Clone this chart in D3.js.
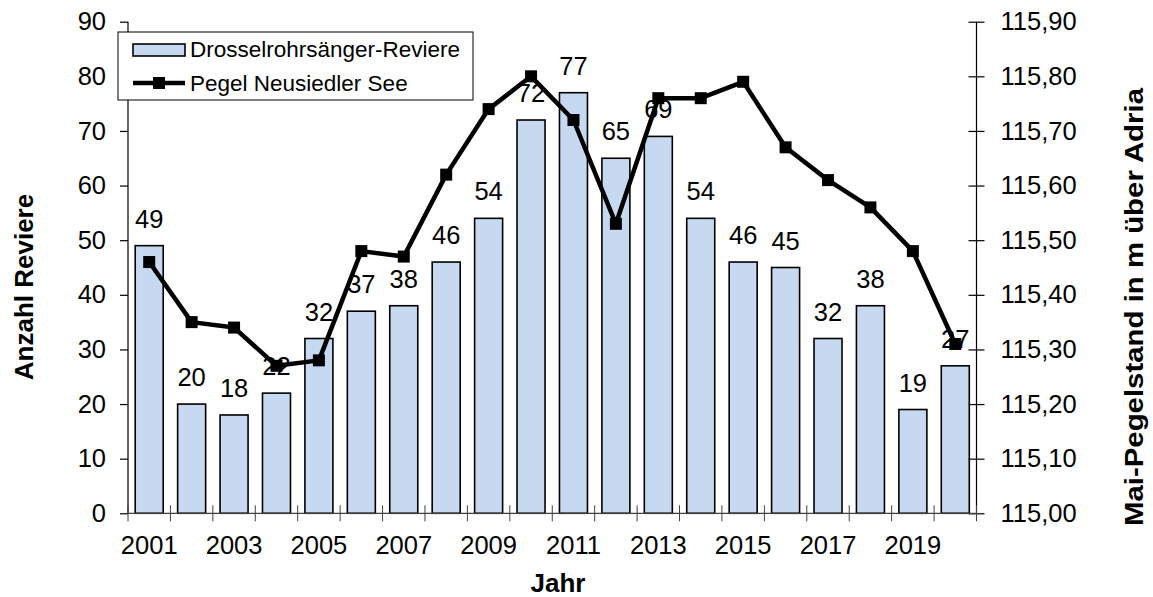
<!DOCTYPE html>
<html>
<head>
<meta charset="utf-8">
<script src="https://cdn.jsdelivr.net/npm/d3@7"></script>
<style>
  body { margin: 0; background: #fff; }
  svg { font-family: Arial, "Liberation Sans", sans-serif; }
  .tick text { font-size: 25.5px; fill: #000; }
  .label { font-size: 25.5px; fill: #000; }
  .title { font-size: 26px; font-weight: bold; fill: #000; }
  .legend-text { font-size: 22.5px; fill: #000; }
</style>
</head>
<body>
<div id="graph-container"></div>
<script>
const years = [2001, 2002, 2003, 2004, 2005, 2006, 2007, 2008, 2009, 2010,
               2011, 2012, 2013, 2014, 2015, 2016, 2017, 2018, 2019, 2020];
const reviere = [49, 20, 18, 22, 32, 37, 38, 46, 54, 72,
                 77, 65, 69, 54, 46, 45, 32, 38, 19, 27];
const pegel = [115.46, 115.35, 115.34, 115.27, 115.28, 115.48, 115.47, 115.62, 115.74, 115.80,
               115.72, 115.53, 115.76, 115.76, 115.79, 115.67, 115.61, 115.56, 115.48, 115.31];
const leftTicks = [0, 10, 20, 30, 40, 50, 60, 70, 80, 90];
const rightTicks = [115.0, 115.1, 115.2, 115.3, 115.4, 115.5, 115.6, 115.7, 115.8, 115.9];
const yearLabels = [2001, 2003, 2005, 2007, 2009, 2011, 2013, 2015, 2017, 2019];
const seriesNames = ['Drosselrohrsänger-Reviere', 'Pegel Neusiedler See'];

const width = 1153, height = 597;
const plot = { left: 128, right: 976.5, top: 21.7, bottom: 513.3 };
const barFill = '#c6d9f1';

const svg = d3.select('#graph-container')
              .append('svg')
              .attr('width', width)
              .attr('height', height);

// bars take ~66% of each category slot
const x = d3.scaleBand()
            .domain(years)
            .range([plot.left, plot.right])
            .paddingInner(0.34)
            .paddingOuter(0.17);

const yLeft = d3.scaleLinear().domain([0, 90]).range([plot.bottom, plot.top]);
const yRight = d3.scaleLinear().domain([115.0, 115.9]).range([plot.bottom, plot.top]);
const cx = d => x(d) + x.bandwidth() / 2;

// bars
svg.append('g')
   .selectAll('rect')
   .data(years)
   .enter()
   .append('rect')
   .attr('x', d => x(d))
   .attr('y', (d, i) => yLeft(reviere[i]))
   .attr('width', x.bandwidth())
   .attr('height', (d, i) => plot.bottom - yLeft(reviere[i]))
   .attr('fill', barFill)
   .attr('stroke', '#000')
   .attr('stroke-width', 1.6);

// value labels above the bars
svg.append('g')
   .selectAll('text')
   .data(years)
   .enter()
   .append('text')
   .attr('class', 'label')
   .attr('text-anchor', 'middle')
   .attr('x', d => cx(d))
   .attr('y', (d, i) => yLeft(reviere[i]) - 18)
   .text((d, i) => reviere[i]);

// water level line (secondary axis)
const line = d3.line()
               .x((d, i) => cx(years[i]))
               .y(d => yRight(d));

svg.append('path')
   .datum(pegel)
   .attr('d', line)
   .attr('fill', 'none')
   .attr('stroke', '#000')
   .attr('stroke-width', 4.5)
   .attr('stroke-linejoin', 'round');

svg.append('g')
   .selectAll('rect')
   .data(pegel)
   .enter()
   .append('rect')
   .attr('x', (d, i) => cx(years[i]) - 6)
   .attr('y', d => yRight(d) - 6)
   .attr('width', 12)
   .attr('height', 12)
   .attr('fill', '#000');

// left axis
const leftAxis = svg.append('g')
   .attr('transform', 'translate(' + plot.left + ',0)')
   .call(d3.axisLeft(yLeft).tickValues(leftTicks).tickSize(8).tickPadding(14));
leftAxis.select('.domain').attr('d', 'M0,' + plot.top + 'V' + plot.bottom);

// right axis, ticks cross the line
const rightAxis = svg.append('g')
   .attr('transform', 'translate(' + plot.right + ',0)')
   .call(d3.axisRight(yRight)
           .tickValues(rightTicks)
           .tickSize(8)
           .tickPadding(16)
           .tickFormat(d => d3.format('.2f')(d).replace('.', ',')));
rightAxis.select('.domain').attr('d', 'M0,' + plot.top + 'V' + plot.bottom);
rightAxis.selectAll('.tick line').attr('x1', -8);

// bottom axis: labels on every second year, ticks between categories
const bottomAxis = svg.append('g')
   .attr('transform', 'translate(0,' + plot.bottom + ')')
   .call(d3.axisBottom(x).tickValues(yearLabels).tickSize(0).tickPadding(23));
bottomAxis.select('.domain').attr('d', 'M' + plot.left + ',0H' + plot.right).attr('stroke', '#404040');

const bounds = years.map(d => x(d) - x.step() * x.paddingOuter()).concat([plot.right]);
bottomAxis.selectAll('.sep')
   .data(bounds)
   .enter()
   .append('line')
   .attr('class', 'sep')
   .attr('x1', d => d)
   .attr('x2', d => d)
   .attr('y1', -8)
   .attr('y2', 8)
   .attr('stroke', '#404040');

svg.selectAll('.domain, .tick line').attr('stroke-width', 1.2);

// axis titles
svg.append('text')
   .attr('class', 'title')
   .attr('text-anchor', 'middle')
   .attr('transform', 'translate(33,287) rotate(-90)')
   .text('Anzahl Reviere');

svg.append('text')
   .attr('class', 'title')
   .attr('text-anchor', 'middle')
   .attr('x', 558)
   .attr('y', 592)
   .text('Jahr');

svg.append('text')
   .attr('class', 'title')
   .attr('text-anchor', 'middle')
   .attr('transform', 'translate(1143,307) rotate(-90)')
   .attr('textLength', 438)
   .attr('lengthAdjust', 'spacingAndGlyphs')
   .text('Mai-Pegelstand in m über Adria');

// legend
const legend = svg.append('g');
legend.append('rect')
      .attr('x', 118).attr('y', 32)
      .attr('width', 355).attr('height', 68)
      .attr('fill', '#fff')
      .attr('stroke', '#000')
      .attr('stroke-width', 1);

legend.append('rect')
      .attr('x', 133).attr('y', 44)
      .attr('width', 52).attr('height', 12)
      .attr('fill', barFill)
      .attr('stroke', '#000')
      .attr('stroke-width', 1.6);

legend.append('line')
      .attr('x1', 133).attr('x2', 185)
      .attr('y1', 83).attr('y2', 83)
      .attr('stroke', '#000')
      .attr('stroke-width', 4.5);

legend.append('rect')
      .attr('x', 153).attr('y', 77)
      .attr('width', 12).attr('height', 12)
      .attr('fill', '#000');

legend.selectAll('.legend-text')
      .data(seriesNames)
      .enter()
      .append('text')
      .attr('class', 'legend-text')
      .attr('x', 190)
      .attr('y', (d, i) => 57 + i * 34)
      .text(d => d);
</script>
</body>
</html>
